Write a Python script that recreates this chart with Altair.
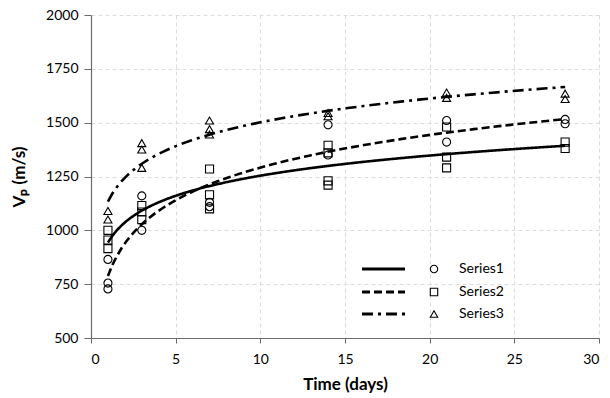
import altair as alt
import pandas as pd

# ---- data ----
series_names = ["Series1", "Series2", "Series3"]
shapes = ["circle", "square", "triangle-up"]

s1_t = [1, 1, 1, 3, 3, 7, 7, 14, 14, 21, 21, 28, 28]
s1_v = [865, 755, 728, 1160, 1000, 1130, 1110, 1490, 1350, 1510, 1410, 1515, 1495]

s2_t = [1, 1, 1, 3, 3, 3, 7, 7, 7, 14, 14, 14, 14, 21, 21, 21, 28, 28]
s2_v = [1000, 955, 915, 1115, 1085, 1050, 1285, 1165, 1100, 1395, 1360, 1230, 1210,
        1480, 1340, 1290, 1410, 1380]

s3_t = [1, 1, 3, 3, 3, 7, 7, 7, 14, 14, 21, 21, 28, 28]
s3_v = [1090, 1050, 1405, 1375, 1290, 1510, 1470, 1445, 1545, 1530, 1640, 1615, 1635, 1610]

x_ticks = [0, 5, 10, 15, 20, 25, 30]
y_ticks = [500, 750, 1000, 1250, 1500, 1750, 2000]

# trend-line dash per data group (as drawn in the reference)
fit_dash = [[8, 4], [1, 0], [11, 5, 3, 5]]
# legend rows: line style, marker, label
legend_dash = [[1, 0], [8, 4], [11, 5, 3, 5]]

rows = []
for name, ts, vs in [("Series1", s1_t, s1_v), ("Series2", s2_t, s2_v), ("Series3", s3_t, s3_v)]:
    for t, v in zip(ts, vs):
        rows.append({"series": name, "t": t, "v": v})
df = pd.DataFrame(rows)

FONT = "Lato"

x_enc = alt.X("t:Q", title="Time (days)",
              scale=alt.Scale(domain=[0, 30], nice=False),
              axis=alt.Axis(values=x_ticks, tickSize=5, labelPadding=9, titlePadding=10, format="d"))
y_enc = alt.Y("v:Q", title="Vₚ (m/s)",
              scale=alt.Scale(domain=[500, 2000], nice=False),
              axis=alt.Axis(values=y_ticks, tickSize=7, labelPadding=6, titlePadding=17, format="d"))

base = alt.Chart(df)

fits = base.transform_regression(
    "t", "v", groupby=["series"], method="log", extent=[1, 28]
).mark_line(color="black", strokeWidth=2.6).encode(
    x=x_enc, y=y_enc,
    strokeDash=alt.StrokeDash("series:N", scale=alt.Scale(domain=series_names, range=fit_dash), legend=None),
)

points = base.mark_point(filled=False, color="black", strokeWidth=1.1, size=65, opacity=1).encode(
    x=x_enc, y=y_enc,
    shape=alt.Shape("series:N", scale=alt.Scale(domain=series_names, range=shapes), legend=None),
)

layers = [fits, points]

# manual legend (line sample, marker, label)
leg_y = [254, 277, 299]
for name, shp, dash, yy in zip(series_names, shapes, legend_dash, leg_y):
    d = alt.Data(values=[{"label": name}])
    layers.append(alt.Chart(d).mark_rule(color="black", strokeWidth=2.8, strokeDash=dash).encode(
        x=alt.value(271), x2=alt.value(314), y=alt.value(yy)))
    layers.append(alt.Chart(d).mark_point(shape=shp, filled=False, color="black", strokeWidth=1.1,
                                          size=55, opacity=1).encode(
        x=alt.value(343), y=alt.value(yy)))
    layers.append(alt.Chart(d).mark_text(align="left", baseline="middle", font=FONT, fontSize=14,
                                         color="black").encode(
        x=alt.value(368), y=alt.value(yy), text="label:N"))

chart = alt.layer(*layers).properties(
    width=508, height=323, autosize="none",
    padding={"left": 91, "top": 15, "right": 11, "bottom": 60},
).configure_view(stroke=None).configure_axis(
    labelFont=FONT, labelFontSize=14, labelColor="black",
    titleFont=FONT, titleFontSize=17, titleFontWeight="bold", titleColor="black",
    domainColor="#6b6b6b", tickColor="#6b6b6b", domainWidth=1.2,
    gridColor="#dcdcdc", gridDash=[4, 3], gridWidth=1,
)

chart.save("out.html", embed_options={"renderer": "svg", "actions": False})
